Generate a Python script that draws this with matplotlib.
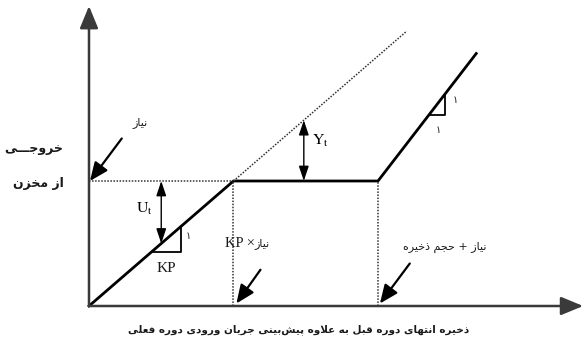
import matplotlib.pyplot as plt
import numpy as np

# --- data (arbitrary units) ---
demand = 1.0          # نیاز
kp = 1.5              # KP
storage = 2.0         # حجم ذخیره
x_end = 4.02          # end of the spill line
x_dotted_end = 3.3    # end of the dotted extension
yt_x = 2.23           # where Y_t is measured
ut_x = 0.75           # where U_t is measured
tri_kp = (0.65, 0.31)     # base start / width of the KP triangle
tri_one = (3.53, 0.17)    # base start / width of the 1:1 triangle

y_label = ["خروجـــی", "از مخزن"]
x_label = "ذخیره انتهای دوره قبل به علاوه پیش‌بینی جریان ورودی دوره فعلی"
lbl_demand = "نیاز"
lbl_kp = "نیاز"
lbl_full = "نیاز + حجم ذخیره"
one = "۱"


def release(x):
    x = np.asarray(x, dtype=float)
    return np.where(x < kp * demand, x / kp,
                    np.where(x <= demand + storage, demand, x - storage))


# --- tiny arabic/persian shaper (matplotlib has no shaping) ---
FORMS = {
    'ا': 'ﺍﺎ', 'د': 'ﺩﺪ', 'ذ': 'ﺫﺬ', 'ر': 'ﺭﺮ', 'ز': 'ﺯﺰ', 'و': 'ﻭﻮ',
    'ب': 'ﺏﺐﺑﺒ', 'پ': 'ﭖﭗﭘﭙ', 'ت': 'ﺕﺖﺗﺘ', 'ج': 'ﺝﺞﺟﺠ', 'ح': 'ﺡﺢﺣﺤ',
    'خ': 'ﺥﺦﺧﺨ', 'ش': 'ﺵﺶﺷﺸ', 'ع': 'ﻉﻊﻋﻌ', 'ف': 'ﻑﻒﻓﻔ', 'ق': 'ﻕﻖﻗﻘ',
    'ل': 'ﻝﻞﻟﻠ', 'م': 'ﻡﻢﻣﻤ', 'ن': 'ﻥﻦﻧﻨ', 'ه': 'ﻩﻪﻫﻬ', 'ی': 'ﯼﯽﯾﯿ',
}
TATWEEL = '\u0640'


def dual(c):
    return c == TATWEEL or (c in FORMS and len(FORMS[c]) == 4)


def joins(c):
    return c == TATWEEL or c in FORMS


def shape(text):
    out = []
    i = 0
    while i < len(text):
        c = text[i]
        prev = text[i - 1] if i > 0 else ''
        if c == '\u200c':
            i += 1
            continue
        if c == 'ل' and i + 1 < len(text) and text[i + 1] == 'ا':
            out.append('\uFEFC' if dual(prev) else '\uFEFB')
            i += 2
            continue
        if c in FORMS:
            nxt = text[i + 1] if i + 1 < len(text) else ''
            jp = dual(prev)
            jn = dual(c) and joins(nxt)
            f = FORMS[c]
            if len(f) == 2:
                out.append(f[1] if jp else f[0])
            else:
                out.append(f[(1 if jp else 0) + (2 if jn else 0)] if not (jp and not jn) else f[1])
        else:
            out.append(c)
        i += 1
    return ''.join(reversed(out))


plt.rcParams['mathtext.fontset'] = 'stix'
fa = dict(family='DejaVu Sans', color='#1a1a1a')
en = dict(family='Liberation Serif', color='#1a1a1a')

fig = plt.figure(figsize=(5.84, 3.49), dpi=100)
ax = fig.add_axes([0, 0, 1, 1])
sx, sy = 96.33, 125.0
ax.set_xlim(-89 / sx, (584 - 89) / sx)
ax.set_ylim((306 - 349) / sy, 306 / sy)
ax.axis('off')

# axes with arrows
axis_kw = dict(arrowstyle='-|>,head_length=0.8,head_width=0.33', lw=1.8, color='#3a3a3a',
               mutation_scale=17, shrinkA=0, shrinkB=0)
ax.annotate('', xy=(0, 2.40), xytext=(0, 0), arrowprops=axis_kw)
ax.annotate('', xy=(5.13, 0), xytext=(0, 0), arrowprops=axis_kw)

# operating rule
x_pts = np.array([0, kp * demand, demand + storage, x_end])
ax.plot(x_pts, release(x_pts), color='black', lw=2.0, solid_joinstyle='miter')

# dotted guides
dot = dict(color='#333333', lw=1.1, ls=(0, (1, 1)))
x1, x2 = kp * demand, demand + storage
ax.plot([0, x1], [demand, demand], **dot)
ax.plot([x1, x_dotted_end], [demand, x_dotted_end / kp], **dot)
ax.plot([x1, x1], [0, demand], **dot)
ax.plot([x2, x2], [0, demand], **dot)

# Y_t and U_t
dbl = dict(arrowstyle='<|-|>,head_length=0.9,head_width=0.3', lw=1.0, color='black',
           mutation_scale=10, shrinkA=0, shrinkB=0)
ax.annotate('', xy=(yt_x, yt_x / kp), xytext=(yt_x, demand), arrowprops=dbl)
ax.annotate('', xy=(ut_x, ut_x / kp), xytext=(ut_x, demand), arrowprops=dbl)
ax.text(yt_x + 0.09, (demand + yt_x / kp) / 2 + 0.08, r'$\mathrm{Y_t}$', fontsize=11.5, ha='left', va='center')
ax.text(ut_x - 0.09, (demand + ut_x / kp) / 2 + 0.03, r'$\mathrm{U_t}$', fontsize=11.5, ha='right', va='center')

# slope triangles
bx, bw = tri_kp
ax.plot([bx, bx + bw, bx + bw], [bx / kp, bx / kp, (bx + bw) / kp], color='black', lw=1.3)
ax.text(bx + bw / 2, bx / kp - 0.13, 'KP', fontsize=11, ha='center', va='center', **en)
ax.text(bx + bw + 0.07, (bx / kp + (bx + bw) / kp) / 2 + 0.02, one, fontsize=7, ha='center', va='center', **fa)
bx, bw = tri_one
ax.plot([bx, bx + bw, bx + bw], [bx - storage, bx - storage, bx + bw - storage], color='black', lw=1.3)
ax.text(bx + bw + 0.1, bx - storage + 0.12, one, fontsize=7, ha='center', va='center', **fa)
ax.text(bx + 0.1, bx - storage - 0.12, one, fontsize=7, ha='center', va='center', **fa)

# pointer arrows
ptr = dict(arrowstyle='-|>,head_length=0.7,head_width=0.3', lw=1.6, color='black',
           mutation_scale=16, shrinkA=0, shrinkB=0)
ax.annotate('', xy=(0.01, demand), xytext=(0.34, demand + 0.34), arrowprops=ptr)
ax.annotate('', xy=(x1 + 0.03, 0.02), xytext=(x1 + 0.28, 0.29), arrowprops=ptr)
ax.annotate('', xy=(x2 + 0.02, 0.02), xytext=(x2 + 0.33, 0.34), arrowprops=ptr)

ax.text(0.53, 1.47, shape(lbl_demand), fontsize=8, ha='center', va='center', **fa)
ax.text(1.72, 0.50, 'KP \u00d7', fontsize=10.5, ha='right', va='center', **en)
ax.text(1.72, 0.50, shape(lbl_kp), fontsize=8, ha='left', va='center', **fa)
ax.text(3.69, 0.47, shape(lbl_full), fontsize=8, ha='center', va='center', **fa)

ax.text(-0.57, 1.26, shape(y_label[0]), fontsize=9, fontweight='bold', ha='center', va='center', **fa)
ax.text(-0.53, 0.98, shape(y_label[1]), fontsize=9, fontweight='bold', ha='center', va='center', **fa)
ax.text(2.18, -0.19, shape(x_label), fontsize=7.5, fontweight='bold', ha='center', va='center', **fa)

fig.savefig('out.png', dpi=100)
